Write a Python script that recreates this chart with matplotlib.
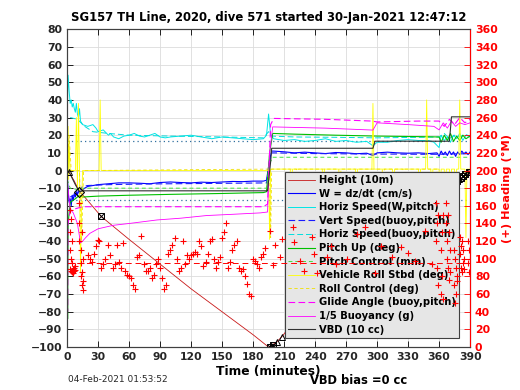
import matplotlib
matplotlib.use("Agg")
import matplotlib.pyplot as plt

TITLE = "SG157 TH Line, 2020, dive 571 started 30-Jan-2021 12:47:12"
STAMP = "04-Feb-2021 01:53:52"
VBD_NOTE = "VBD bias =0 cc"

# ---- left axis series (minutes, value) ----
height_t = [0, 2, 7, 12, 17, 33, 60, 90, 120, 150, 180, 195, 198, 203, 208, 216, 246, 280, 320, 351, 365, 378, 390]
height_v = [0, -1, -6, -12, -15, -26, -39, -53, -67, -80, -93, -100, -99, -97, -94, -88, -71, -53, -33, -17, -11, -6, 0]

tri_t = [2, 197, 203, 208, 246, 351, 356, 363, 371, 379, 387]
tri_v = [-1, -100, -97, -94, -71, -17, -14, -11, -8, -5, -1]
box_t = [33, 196, 199, 216, 359, 361, 365, 367, 369, 373, 375, 377, 381, 383, 385, 389]
box_v = [-26, -100, -99, -88, -13, -12, -11, -10, -9, -7, -7, -6, -4, -3, -2, -1]
dia_t = [12]
dia_v = [-12]

w_t = [0, 1, 2, 3, 4, 5, 6, 7, 8, 9, 10, 11, 12, 13, 15, 17, 20, 25, 30, 40, 50, 60, 70, 80, 90, 100, 110, 120,
       130, 140, 150, 160, 170, 180, 190, 193, 196, 198, 200, 210, 220, 230, 240, 250, 260, 270, 280, 290, 296,
       300, 310, 320, 330, 340, 350, 358, 360, 362, 364, 366, 368, 370, 372, 374, 376, 378, 380, 382, 384, 386, 388, 390]
w_v = [0, -12, -18, -16, -20, -14, -17, -13, -15, -12, -14, -11, -13, -12, -11, -10, -9, -8.5, -8, -7.5, -7, -7,
       -7.2, -7.5, -6.8, -6.5, -6.8, -7, -6.6, -6.8, -6.5, -6.2, -6.3, -6, -6, -5.5, 6, 11, 11, 10.6, 10, 10.4,
       10, 9.6, 10.2, 10, 9.5, 9.8, 8.5, 10, 10.4, 10, 9.8, 10, 9.6, 10, 8, 11, 9, 10.5, 8.5, 11, 9, 10.5, 8,
       10.5, 9, 11, 9.5, 10.5, 9, 10.5]

vs_t = [3, 10, 15, 20, 40, 60, 80, 100, 120, 140, 160, 180, 193, 196, 198, 220, 240, 260, 280, 300, 320, 340, 360, 375, 390]
vs_v = [-15, -13, -9, -8.5, -8, -7.8, -7.6, -7.5, -7.4, -7.3, -7.2, -7.1, -7, 5, 10, 9.8, 9.6, 9.5, 9.4, 9.3, 9.3, 9.2, 9.2, 9.4, 9.5]

hs_t = [0, 1, 2, 3, 4, 5, 6, 7, 8, 9, 10, 11, 12, 13, 14, 15, 20, 25, 28, 30, 35, 40, 42, 45, 50, 55, 60, 65, 70,
        75, 80, 85, 90, 95, 100, 110, 120, 130, 140, 150, 160, 170, 180, 190, 193, 195, 197, 200, 210, 220, 230,
        240, 250, 260, 270, 280, 290, 296, 300, 310, 320, 330, 340, 350, 355, 360, 362, 365, 368, 371, 374, 377,
        380, 383, 386, 390]
hs_v = [30, 54, 45, 38, 40, 36, 38, 35, 33, 38, 32, 30, 35, 28, 27, 26, 25, 26, 24, 22, 23, 20, 21, 19, 18, 19.5,
        20, 21, 19.5, 19, 20, 21, 19, 18.5, 19, 19.5, 20, 19, 18, 19, 18.5, 18, 17.5, 18, 20, 32, 20, 18, 17, 17.5,
        16.5, 17, 18, 16.5, 17, 16, 16.5, 14, 16, 16, 17, 17.5, 17, 17, 16, 13, 20, 17, 19, 16, 20, 18, 21, 17, 20, 19]

hb_t = [3, 10, 17, 25, 40, 60, 100, 150, 190, 195, 198, 220, 260, 300, 340, 360, 365, 370, 375, 380, 385, 390]
hb_v = [30, 29, 25, 22, 21, 20, 19.5, 19, 18.5, 22, 19.5, 19, 18.8, 18.5, 18.8, 19, 21, 18, 20, 19, 20.5, 19.5]

pitch_t = [0, 0.5, 1, 3, 8, 12, 15, 30, 60, 100, 150, 190, 193, 196, 199, 220, 260, 300, 340, 360, 362, 365, 368,
           371, 374, 377, 380, 383, 386, 390]
pitch_v = [-20, -84, -30, -18, -16, -14, -15, -14.5, -14, -13.5, -13, -12.5, -12, 10, 21, 20.6, 20, 19.5, 19.2,
           19, 16, 20, 17, 21, 16.5, 19.5, 17, 20, 18, 19.5]

pc_t = [0, 3, 12, 15, 193, 196, 199, 390]
pc_v = [-5, -10, -11, -10, -10, 4, 7.5, 7.5]

roll_t = [0, 1, 1.5, 2, 3, 8, 9, 10, 11, 12, 13, 14, 15, 31, 32, 33, 190, 195, 196, 197, 198, 199, 216, 217, 218,
          247, 248, 249, 279, 280, 281, 295, 296, 297, 315, 316, 317, 340, 341, 342, 347, 348, 349, 352, 353, 354,
          360, 361, 362, 365, 366, 367, 370, 371, 372, 375, 376, 377, 379, 380, 381, 385, 386, 387, 390]
roll_v = [10, 25, -5, 15, 0, 0, 30, -10, 38, 0, -58, -20, 0, 0, 40, 0, 0, 0, -39, 0.8, 0.8, 0.8, 0.8, -36,
          0.8, 0.8, -34, 0.8, 0.8, -30, 0.8, 0.8, 38, 0.8, 0.8, -38, 0.8, 0.8, -35, 0.8, 0.8, 40, 0.8, 0.8, -30,
          0.8, 0.8, -40, 0.8, 0.8, -38, 0.8, 0.8, -40, 0.8, 0.8, -36, 0.8, 0.8, 40, 0.8, 0.8, -38, 0.8, 0.8]

rc_t = [0, 2, 4, 12, 14, 16, 196, 197, 198, 222, 223, 224, 263, 264, 265, 305, 306, 307, 325, 326, 327, 358, 359, 360]
rc_v = [0, 20, 0, 0, -40, 0, 0.8, -38, 0.8, 0.8, -35, 0.8, 0.8, -32, 0.8, 0.8, -36, 0.8, 0.8, -30, 0.8, 0.8, -38, 0.8]

glide_t = [0, 0.5, 1, 3, 6, 15, 60, 120, 190, 194, 197, 200, 250, 295, 300, 340, 360, 365, 370, 375, 380, 385, 390]
glide_v = [-10, -80, -30, -23, -22, -20.5, -20.5, -20.5, -20.5, -19, 26, 29.5, 29, 28, 27.5, 28, 28, 25, 29, 26, 30, 27, 29]

buoy_t = [0, 3, 6, 10, 13, 15, 18, 22, 30, 45, 60, 87, 110, 135, 160, 187, 194, 196, 199, 250, 296, 300, 330, 355,
          360, 364, 368, 372, 376, 380, 385, 390]
buoy_v = [-5, -22, -24, -30, -41, -40, -38, -35.6, -33, -31, -30, -28, -27, -25.5, -24.8, -24, -23.5, 10, 24.7,
          24, 22.9, 27, 26, 25, 23, 27, 24, 28, 25, 27, 26, 27]

vbd_t = [0, 3, 8, 12, 15, 194, 197, 198, 296, 298, 370, 372, 390]
vbd_v = [0, -2, -8, -12, -11.5, -11.5, 5, 12.6, 12.6, 16.6, 16.6, 30.4, 30.4]

ref_speed = 16.7     # dotted target lines
ref_heading = 95     # dashed heading target (right axis)

# ---- heading (right axis, deg M) ----
head_t = [3, 3, 3, 3, 4, 4, 4, 5, 5, 5, 6, 6, 7, 7, 8, 8, 12, 12, 12, 13, 13, 13, 14, 14, 14, 15, 15, 15,
          20, 22, 24, 26, 28, 30, 31, 33, 35, 37, 40, 42, 44, 46, 48, 50, 52, 54, 56, 58, 60, 62, 64, 66,
          68, 70, 72, 74, 76, 78, 80, 82, 84, 86, 88, 90, 92, 94, 96, 98, 100, 102, 104, 106, 108, 110, 112,
          114, 116, 118, 120, 122, 124, 126, 128, 130, 132, 134, 136, 138, 140, 142, 144, 146, 148, 150, 152,
          154, 156, 158, 160, 162, 164, 166, 168, 170, 172, 174, 176, 178, 180, 182, 184, 186, 188, 190, 192,
          196, 199, 201, 206, 208, 219, 220, 225, 229, 237, 239, 242, 252, 255, 260, 271, 281, 288, 298, 304,
          314, 323, 330, 337, 346, 353,
          357, 357, 358, 358, 359, 359, 362, 362, 363, 363, 364, 364, 367, 367, 368, 368, 369, 369, 370, 370,
          371, 371, 374, 374, 375, 375, 376, 376, 377, 377, 380, 380, 381, 381, 382, 382, 383, 383, 384, 384,
          388, 388, 389, 389, 390]
head_r = [155, 130, 110, 88, 145, 100, 86, 120, 95, 85, 88, 84, 86, 90, 87, 92, 163, 140, 120, 110, 95, 80,
          130, 85, 70, 100, 75, 65,
          104, 100, 96, 106, 115, 121, 120, 90, 94, 100, 116, 104, 90, 94, 116, 96, 90, 118, 86, 82, 80, 78,
          70, 66, 102, 104, 126, 94, 86, 86, 90, 78, 82, 94, 100, 90, 78, 66, 70, 106, 110, 116, 124, 100, 86,
          90, 120, 94, 104, 100, 104, 106, 108, 106, 120, 114, 92, 96, 106, 120, 122, 100, 90, 96, 102, 124,
          130, 140, 90, 96, 110, 116, 120, 90, 86, 88, 80, 72, 60, 58, 100, 98, 94, 90, 102, 106, 112,
          131, 93, 116, 102, 123, 136, 119, 98, 86, 125, 106, 84, 102, 115, 94, 100, 128, 136, 84, 115,
          102, 113, 107, 98, 132, 94,
          163, 120, 140, 90, 150, 70, 110, 60, 130, 80, 150, 55, 163, 140, 120, 100, 150, 90, 130, 76, 110,
          85, 110, 70, 100, 50, 90, 60, 80, 75, 125, 105, 115, 90, 120, 85, 110, 95, 100, 88, 120, 95, 110, 85, 100]

RED = "#ff0000"
fig = plt.figure(figsize=(5.2, 3.9), dpi=100)
ax = fig.add_axes([0.129, 0.110, 0.775, 0.815])
ax2 = ax.twinx()

ax.axhline(ref_speed, color="#2f6f9f", ls=(0, (1, 2.5)), lw=0.9, zorder=1)
ax.axhline(-ref_speed, color="#2f6f9f", ls=(0, (1, 2.5)), lw=0.9, zorder=1)

ax.plot(height_t, height_v, color="#c81818", lw=0.6, label="Height (10m)")
ax.plot(w_t, w_v, color="#0000ff", lw=0.8, label="W = dz/dt (cm/s)")
ax.plot(hs_t, hs_v, color="#00e5e5", lw=0.7, label="Horiz Speed(W,pitch)")
ax.plot(vs_t, vs_v, color="#1a1aff", lw=0.8, ls=(0, (6, 3)), label="Vert Speed(buoy,pitch)")
ax.plot(hb_t, hb_v, color="#00dddd", lw=0.7, ls=(0, (6, 3)), label="Horiz Speed(buoy,pitch)")
ax.plot(pitch_t, pitch_v, color="#00c000", lw=0.8, label="Pitch Up (deg)")
ax.plot(pc_t, pc_v, color="#40e040", lw=0.7, ls=(0, (4, 3)), label="Pitch Control (mm)")
ax.plot(roll_t, roll_v, color="#ffff00", lw=0.6, label="Vehicle Roll Stbd (deg)")
ax.plot(rc_t, rc_v, color="#f0e000", lw=0.6, ls=(0, (4, 3)), label="Roll Control (deg)")
ax.plot(glide_t, glide_v, color="#ff00ff", lw=0.8, ls=(0, (6, 3)), label="Glide Angle (buoy,pitch)")
ax.plot(buoy_t, buoy_v, color="#ff00ff", lw=0.6, label="1/5 Buoyancy (g)")
ax.plot(vbd_t, vbd_v, color="#303030", lw=0.8, label="VBD (10 cc)")

ax.plot(tri_t, tri_v, ls="none", marker="^", ms=5, mfc="none", mec="k", mew=0.7)
ax.plot(box_t, box_v, ls="none", marker="s", ms=4.5, mfc="none", mec="k", mew=0.7)
ax.plot(box_t, box_v, ls="none", marker="x", ms=4, mec="k", mew=0.7)
ax.plot(dia_t, dia_v, ls="none", marker="D", ms=5, mfc="none", mec="k", mew=0.8)

ax2.axhline(ref_heading, color=RED, lw=0.7, ls=(0, (6, 4)))
ax2.plot(head_t, head_r, ls="none", marker="+", ms=4, mew=0.8, color=RED)

ax.set_xlim(0, 390)
ax.set_ylim(-100, 80)
ax.set_xticks(range(0, 391, 30))
ax.set_yticks(range(-100, 81, 10))
ax2.set_ylim(0, 360)
ax2.set_yticks(range(0, 361, 20))

ax.grid(True, color="#dcdcdc", lw=0.6)
ax.set_axisbelow(True)
ax.tick_params(direction="in", length=4, width=0.6, labelsize=7.8, top=True)
ax2.tick_params(direction="in", length=4, width=0.6, labelsize=7.8)
for lab in ax.get_xticklabels() + ax.get_yticklabels():
    lab.set_fontweight("bold")
    lab.set_color("#262626")
for lab in ax2.get_yticklabels():
    lab.set_fontweight("bold")
ax2.tick_params(axis="y", colors=RED)
ax2.spines["right"].set_color(RED)
for s in ("left", "bottom", "top"):
    ax.spines[s].set_color("#404040")
    ax2.spines[s].set_color("#404040")

ax.set_title(TITLE, fontsize=8.4, fontweight="bold", pad=6)
ax.set_xlabel("Time (minutes)", fontsize=8.8, fontweight="bold", labelpad=2)
ax2.set_ylabel("(+) Heading (\u00b0M)", fontsize=8.2, fontweight="bold", color=RED, labelpad=3)

leg = ax.legend(loc="lower right", bbox_to_anchor=(0.985, 0.014), prop={"weight": "bold", "size": 7.2},
                labelspacing=0.36, handlelength=2.7, handletextpad=0.45, borderpad=0.3,
                fancybox=False, framealpha=1, facecolor="#e6e6e6", edgecolor="#404040")
leg.get_frame().set_linewidth(0.8)

fig.text(68 / 520, 1 - 379 / 390, STAMP, fontsize=6.5, color="#262626", va="center", ha="left")
fig.text(310 / 520, 1 - 380 / 390, VBD_NOTE, fontsize=8.3, fontweight="bold", va="center", ha="left")

fig.savefig("out.png", dpi=100)
